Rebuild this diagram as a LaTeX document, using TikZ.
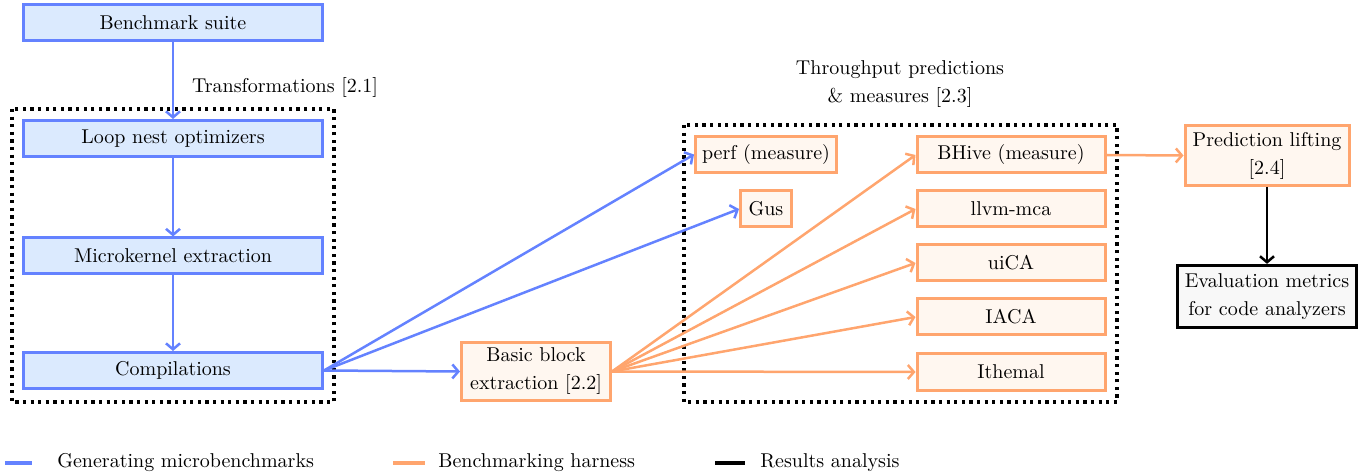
\documentclass[tikz,border=0pt]{standalone}
\usetikzlibrary{arrows.meta}

\definecolor{genblue}{RGB}{100,130,255}
\definecolor{genfill}{RGB}{219,234,254}
\definecolor{harnorange}{RGB}{255,165,110}
\definecolor{harnfill}{RGB}{255,247,240}
\definecolor{resfill}{RGB}{248,248,248}

\begin{document}
\begin{tikzpicture}[x=0.5pt, y=-0.5pt,
  every node/.style={font=\fontsize{10}{14}\selectfont, align=center, inner sep=0pt},
  genbox/.style={draw=genblue, fill=genfill, line width=1.5pt, minimum width=149.5pt, minimum height=18pt},
  harnbox/.style={draw=harnorange, fill=harnfill, line width=1.5pt, minimum height=18pt},
  resbox/.style={draw=black, fill=resfill, line width=1.6pt},
  genline/.style={draw=genblue, line width=1.25pt, -{Straight Barb[length=3pt,width=7pt]}},
  harnline/.style={draw=harnorange, line width=1.25pt, -{Straight Barb[length=3pt,width=7pt]}},
  resline/.style={draw=black, line width=1.25pt, -{Straight Barb[length=3pt,width=7pt]}},
  groupbox/.style={draw=black, line width=1.6pt, dash pattern=on 1.6pt off 2.2pt}]
\useasboundingbox (0,0) rectangle (1369,475);

%groups
\draw[groupbox] (12,109) rectangle (334,402);
\draw[groupbox] (684,125) rectangle (1117,402);
\node (transf) at (285,88) {Transformations [2.1]};
\node (tput) at (900,84) {\fontsize{10}{15.5}\selectfont Throughput predictions\\\& measures [2.3]};

%microbenchmarks
\node[genbox] (bench) at (173,22.5) {Benchmark suite};
\node[genbox] (loop) at (173,138.5) {Loop nest optimizers};
\node[genbox] (ukern) at (173,256) {Microkernel extraction};
\node[genbox] (comp) at (173,370.5) {Compilations};

%harness
\node[harnbox, minimum width=74.5pt, minimum height=29pt] (bbext) at (536,371.5) {Basic block\\extraction [2.2]};
\node[harnbox, minimum width=70.5pt] (perf) at (766,154.5) {perf (measure)};
\node[harnbox, minimum width=25.5pt] (gus) at (766,209) {Gus};
\node[harnbox, minimum width=94pt] (bhive) at (1011,155) {BHive (measure)};
\node[harnbox, minimum width=94pt] (mca) at (1011,209) {llvm-mca};
\node[harnbox, minimum width=94pt] (uica) at (1011,263) {uiCA};
\node[harnbox, minimum width=94pt] (iaca) at (1011,317) {IACA};
\node[harnbox, minimum width=94pt] (ithemal) at (1011,372) {Ithemal};
\node[harnbox, minimum width=82pt, minimum height=30pt] (lift) at (1267,155.5) {Prediction lifting\\{}[2.4]};

%results
\node[resbox, minimum width=89.5pt, minimum height=31pt] (eval) at (1267,296.5) {Evaluation metrics\\for code analyzers};

%arrows
\draw[genline] (bench) -- (loop);
\draw[genline] (loop) -- (ukern);
\draw[genline] (ukern) -- (comp);
\draw[genline] (comp.east) -- (perf.west);
\draw[genline] (comp.east) -- (gus.west);
\draw[genline] (comp.east) -- (bbext.west);

\draw[harnline] (bbext.east) -- (bhive.west);
\draw[harnline] (bbext.east) -- (mca.west);
\draw[harnline] (bbext.east) -- (uica.west);
\draw[harnline] (bbext.east) -- (iaca.west);
\draw[harnline] (bbext.east) -- (ithemal.west);
\draw[harnline] (bhive.east) -- (lift.west);

\draw[resline] (lift) -- (eval);

%legend
\coordinate (lgen) at (5,463);
\coordinate (lharn) at (393,463);
\coordinate (lres) at (715,463);
\node[anchor=west] (tgen) at (57,463) {Generating microbenchmarks};
\node[anchor=west] (tharn) at (438,463) {Benchmarking harness};
\node[anchor=west] (tres) at (760,463) {Results analysis};
\draw[genblue, line width=1.6pt] (lgen) -- ++(27,0);
\draw[harnorange, line width=1.6pt] (lharn) -- ++(32,0);
\draw[black, line width=1.6pt] (lres) -- ++(30,0);
\end{tikzpicture}
\end{document}
